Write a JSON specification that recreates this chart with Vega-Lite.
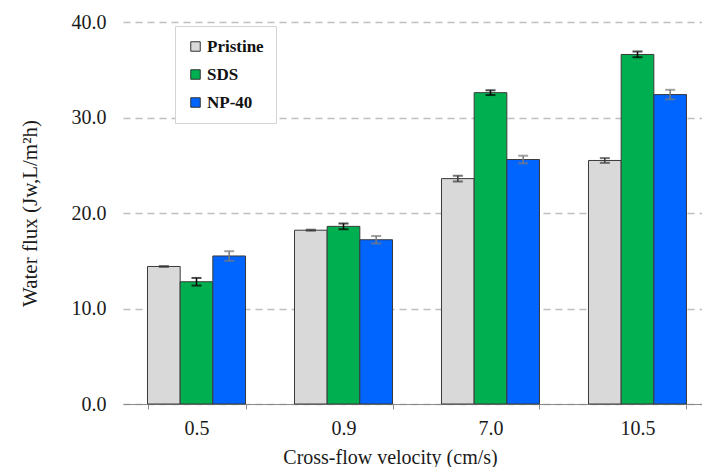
{
  "$schema": "https://vega.github.io/schema/vega-lite/v6.json",
  "autosize": "none",
  "padding": {"left": 123, "top": 22, "right": 0, "bottom": 63},
  "width": 588,
  "height": 382,
  "background": "white",
  "data": {
    "values": [
      {"velocity": "0.5", "membrane": "Pristine", "flux": 14.4, "lo": 14.35, "hi": 14.45},
      {"velocity": "0.5", "membrane": "SDS", "flux": 12.8, "lo": 12.4, "hi": 13.2},
      {"velocity": "0.5", "membrane": "NP-40", "flux": 15.5, "lo": 15.0, "hi": 16.0},
      {"velocity": "0.9", "membrane": "Pristine", "flux": 18.2, "lo": 18.15, "hi": 18.25},
      {"velocity": "0.9", "membrane": "SDS", "flux": 18.6, "lo": 18.3, "hi": 18.9},
      {"velocity": "0.9", "membrane": "NP-40", "flux": 17.2, "lo": 16.8, "hi": 17.6},
      {"velocity": "7.0", "membrane": "Pristine", "flux": 23.6, "lo": 23.3, "hi": 23.9},
      {"velocity": "7.0", "membrane": "SDS", "flux": 32.6, "lo": 32.35, "hi": 32.85},
      {"velocity": "7.0", "membrane": "NP-40", "flux": 25.6, "lo": 25.2, "hi": 26.0},
      {"velocity": "10.5", "membrane": "Pristine", "flux": 25.5, "lo": 25.25, "hi": 25.75},
      {"velocity": "10.5", "membrane": "SDS", "flux": 36.6, "lo": 36.3, "hi": 36.9},
      {"velocity": "10.5", "membrane": "NP-40", "flux": 32.4, "lo": 31.9, "hi": 32.9}
    ]
  },
  "encoding": {
    "x": {
      "field": "velocity",
      "type": "nominal",
      "sort": ["0.5", "0.9", "7.0", "10.5"],
      "scale": {"paddingInner": 0.3333, "paddingOuter": 0.1667},
      "axis": {
        "title": "Cross-flow velocity (cm/s)",
        "titleX": 267,
        "labelAngle": 0,
        "tickBand": "extent",
        "domainColor": "#8c8c8c",
        "tickColor": "#8c8c8c",
        "tickSize": 5,
        "grid": false,
        "labelFont": "Liberation Serif",
        "labelFontSize": 20,
        "labelFontWeight": "normal",
        "labelColor": "#1a1a1a",
        "labelPadding": 9,
        "titleFont": "Liberation Serif",
        "titleFontSize": 20,
        "titleFontWeight": "normal",
        "titleColor": "#1a1a1a",
        "titlePadding": 9
      }
    },
    "xOffset": {
      "field": "membrane",
      "type": "nominal",
      "sort": ["Pristine", "SDS", "NP-40"],
      "scale": {"paddingInner": 0, "paddingOuter": 0}
    }
  },
  "layer": [
    {
      "mark": {"type": "bar", "stroke": "#3a3a3a", "strokeWidth": 1},
      "encoding": {
        "y": {
          "field": "flux",
          "type": "quantitative",
          "scale": {"domain": [0, 40], "nice": false},
          "axis": {
            "title": "Water flux (Jw,L/m²h)",
            "values": [0, 10, 20, 30, 40],
            "format": ".1f",
            "domain": false,
            "ticks": false,
            "grid": true,
            "gridColor": "#bfbfbf",
            "gridDash": [7, 5],
            "gridWidth": 1.5,
            "labelFont": "Liberation Serif",
            "labelFontSize": 20,
            "labelColor": "#1a1a1a",
            "labelPadding": 17,
            "titleFont": "Liberation Serif",
            "titleFontSize": 21,
            "titleFontWeight": "normal",
            "titleColor": "#1a1a1a",
            "titlePadding": 31
          }
        },
        "color": {
          "field": "membrane",
          "type": "nominal",
          "sort": ["Pristine", "SDS", "NP-40"],
          "scale": {"domain": ["Pristine", "SDS", "NP-40"], "range": ["#d9d9d9", "#00b050", "#0064ff"]},
          "legend": {
            "title": null,
            "orient": "none",
            "legendX": 52,
            "legendY": 4,
            "fillColor": "white",
            "strokeColor": "#d4d4d4",
            "padding": 12,
            "rowPadding": 10,
            "symbolType": "square",
            "symbolSize": 90,
            "symbolStrokeColor": "#333333",
            "symbolStrokeWidth": 1,
            "symbolOpacity": 1,
            "labelFont": "Liberation Serif",
            "labelFontSize": 17,
            "labelFontWeight": "bold",
            "labelColor": "#111111",
            "labelOffset": 3
          }
        }
      }
    },
    {
      "encoding": {
        "color": {
          "field": "membrane",
          "type": "nominal",
          "scale": {"domain": ["Pristine", "SDS", "NP-40"], "range": ["#3a3a3a", "#000000", "#7a7a7a"]},
          "legend": null
        }
      },
      "layer": [
        {
          "mark": {"type": "rule", "strokeWidth": 1.5},
          "encoding": {
            "y": {"field": "lo", "type": "quantitative"},
            "y2": {"field": "hi"}
          }
        },
        {
          "mark": {"type": "tick", "size": 10, "thickness": 2},
          "encoding": {"y": {"field": "lo", "type": "quantitative"}}
        },
        {
          "mark": {"type": "tick", "size": 10, "thickness": 2},
          "encoding": {"y": {"field": "hi", "type": "quantitative"}}
        }
      ]
    }
  ],
  "resolve": {"scale": {"color": "independent"}},
  "config": {
    "view": {"stroke": null},
    "font": "Liberation Serif"
  }
}
